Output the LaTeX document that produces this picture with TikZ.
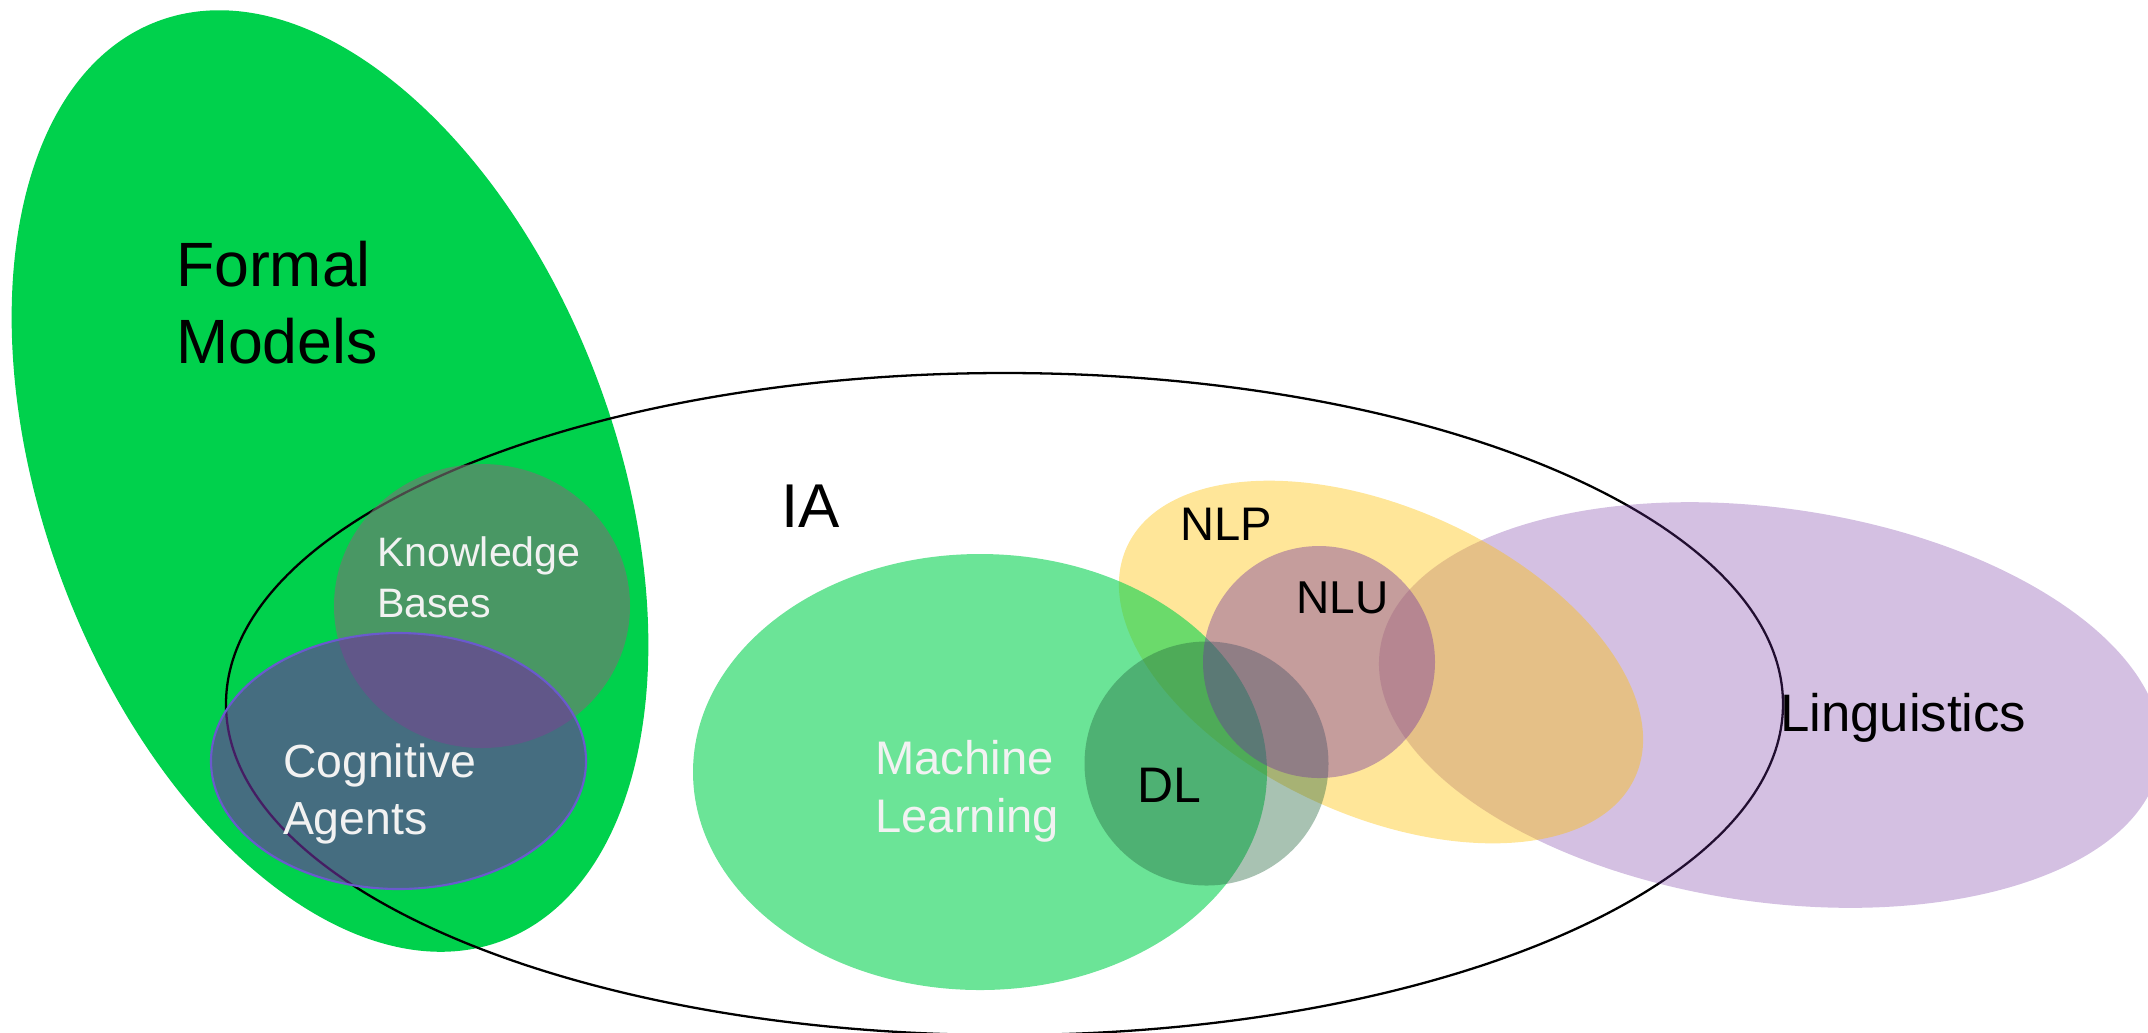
\documentclass[tikz,border=0pt]{standalone}
\usepackage{fontspec}
\setmainfont{Liberation Sans}
\definecolor{fmgreen}{RGB}{0,209,76}
\definecolor{kbgray}{RGB}{118,117,115}
\definecolor{purp}{RGB}{112,48,160}
\definecolor{caedge}{RGB}{106,90,205}
\definecolor{gold}{RGB}{255,192,0}
\definecolor{dlgreen}{RGB}{37,102,62}
\definecolor{lighttext}{RGB}{242,242,242}
\tikzset{
  lbl/.style={inner sep=0pt, outer sep=0pt},
  dark/.style={lbl, text=black},
  light/.style={lbl, text=lighttext},
  iaborder/.style={draw=black, line width=0.65pt},
}
\begin{document}
\begin{tikzpicture}[x=0.01cm, y=0.01cm]
\useasboundingbox (0,0) rectangle (2148,-1032);
\clip (0,0) rectangle (2148,-1032);
% Formal Models
\fill[fmgreen, rotate around={-69.5:(330,-481)}] (330,-481) ellipse [x radius=491, y radius=286];
% IA outline
\draw[iaborder] (1004.5,-704) ellipse [x radius=778.5, y radius=331];
% Knowledge Bases
\fill[kbgray, fill opacity=0.62] (482,-606) ellipse [x radius=148, y radius=142];
% Cognitive Agents
\fill[purp, fill opacity=0.62] (398.5,-761) ellipse [x radius=187.5, y radius=128];
\draw[caedge, line width=0.6pt] (398.5,-761) ellipse [x radius=187.5, y radius=128];
% Linguistics
\fill[purp, fill opacity=0.3, rotate around={-8.1:(1770,-705)}] (1770,-705) ellipse [x radius=394, y radius=197];
% NLP
\fill[gold, fill opacity=0.4, rotate around={-24.3:(1381,-662)}] (1381,-662) ellipse [x radius=279, y radius=154];
% Machine Learning
\fill[fmgreen, fill opacity=0.58] (980,-772) ellipse [x radius=287, y radius=218];
% DL
\fill[dlgreen, fill opacity=0.4] (1206.5,-763.5) circle [radius=122];
% NLU
\fill[purp, fill opacity=0.4] (1319,-662) circle [radius=116];

% labels
\node[dark, anchor=north west, align=left, font=\fontsize{17.8pt}{21.9pt}\selectfont] (fm) at (176,-241) {Formal\\Models};
\node[dark, anchor=base west, font=\fontsize{17.6pt}{21pt}\selectfont] (ia) at (781,-527) {IA};
\node[light, anchor=north west, align=left, font=\fontsize{11.7pt}{14.5pt}\selectfont] (kb) at (377,-537) {Knowledge\\Bases};
\node[light, anchor=north west, align=left, font=\fontsize{13.2pt}{16.2pt}\selectfont] (ca) at (283,-744) {Cognitive\\Agents};
\node[light, anchor=north west, align=left, font=\fontsize{13.4pt}{16.5pt}\selectfont] (ml) at (875.5,-740) {Machine\\Learning};
\node[dark, anchor=base west, font=\fontsize{14.2pt}{17pt}\selectfont] (dl) at (1137,-802) {DL};
\node[dark, anchor=base west, font=\fontsize{13.4pt}{16pt}\selectfont] (nlp) at (1180,-540) {NLP};
\node[dark, anchor=base west, font=\fontsize{13.1pt}{16pt}\selectfont] (nlu) at (1296.5,-613) {NLU};
\node[dark, anchor=base west, font=\fontsize{15pt}{18pt}\selectfont] (ling) at (1780,-731) {Linguistics};
\end{tikzpicture}
\end{document}
